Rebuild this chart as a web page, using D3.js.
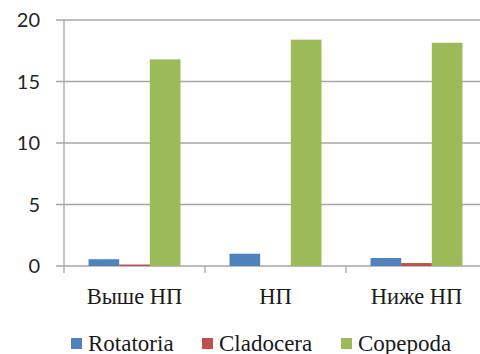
<!DOCTYPE html>
<html>
<head>
<meta charset="utf-8">
<script src="https://cdn.jsdelivr.net/npm/d3@7"></script>
<style>
  html, body { margin: 0; padding: 0; background: #fff; }
  svg { display: block; }
  .serif { font-family: "Liberation Serif", "Times New Roman", Times, serif; }
</style>
</head>
<body>
<svg id="chart" width="480" height="354"></svg>
<script>
// Sampling sites and zooplankton groups
const categories = ["Выше НП", "НП", "Ниже НП"];
const seriesNames = ["Rotatoria", "Cladocera", "Copepoda"];
const rotatoria = [0.55, 1.0, 0.65];
const cladocera = [0.12, 0.0, 0.24];
const copepoda = [16.8, 18.4, 18.15];
const yTicks = [0, 5, 10, 15, 20];
const colors = ["#4F81BD", "#C0504D", "#9BBB59"];

const seriesValues = [rotatoria, cladocera, copepoda];

const svg = d3.select("#chart");
const plot = { left: 64, right: 487, top: 20, bottom: 266 };

const x0 = d3.scaleBand().domain(categories).range([plot.left, plot.right]).paddingInner(0).paddingOuter(0);
const x1 = d3.scaleBand().domain(seriesNames).range([0, x0.bandwidth()]).paddingOuter(0.8).paddingInner(0);
const y = d3.scaleLinear().domain([0, 20]).range([plot.bottom, plot.top]);

// horizontal gridlines
svg.append("g")
  .selectAll("line")
  .data(yTicks)
  .join("line")
  .attr("x1", plot.left - 8)
  .attr("x2", 480)
  .attr("y1", d => y(d))
  .attr("y2", d => y(d))
  .attr("stroke", "#A6A6A6")
  .attr("stroke-width", 1.3);

// y tick labels
svg.append("g")
  .selectAll("text")
  .data(yTicks)
  .join("text")
  .attr("x", 40)
  .attr("y", d => y(d))
  .attr("dy", "0.36em")
  .attr("text-anchor", "end")
  .attr("font-family", "Lato, 'Open Sans', sans-serif")
  .attr("font-size", 20)
  .attr("fill", "#262626")
  .text(d => d);

// bars
const groups = svg.append("g")
  .selectAll("g")
  .data(categories)
  .join("g")
  .attr("transform", d => `translate(${x0(d)},0)`);

groups.selectAll("rect")
  .data((c, i) => seriesNames.map((s, k) => ({ s, k, v: seriesValues[k][i] })))
  .join("rect")
  .attr("x", d => x1(d.s))
  .attr("width", x1.bandwidth())
  .attr("y", d => y(d.v))
  .attr("height", d => y(0) - y(d.v))
  .attr("fill", d => colors[d.k]);

// vertical axis line
svg.append("line")
  .attr("x1", plot.left).attr("x2", plot.left)
  .attr("y1", plot.top).attr("y2", plot.bottom + 7)
  .attr("stroke", "#A6A6A6").attr("stroke-width", 1.3);

// category separator ticks
svg.append("g")
  .selectAll("line")
  .data(categories.slice(1))
  .join("line")
  .attr("x1", d => x0(d)).attr("x2", d => x0(d))
  .attr("y1", plot.bottom).attr("y2", plot.bottom + 7)
  .attr("stroke", "#A6A6A6").attr("stroke-width", 1.3);

// category labels
svg.append("g")
  .selectAll("text")
  .data(categories)
  .join("text")
  .attr("class", "serif")
  .attr("x", d => x0(d) + x0.bandwidth() / 2)
  .attr("y", 304)
  .attr("text-anchor", "middle")
  .attr("font-size", 22.5)
  .attr("fill", "#1a1a1a")
  .text(d => d);

// legend
const legendX = [71, 202, 341];
const legend = svg.append("g")
  .selectAll("g")
  .data(seriesNames)
  .join("g")
  .attr("transform", (d, i) => `translate(${legendX[i]},338)`);

legend.append("rect")
  .attr("width", 11).attr("height", 11)
  .attr("fill", (d, i) => colors[i]);

legend.append("text")
  .attr("class", "serif")
  .attr("x", 17)
  .attr("y", 12.5)
  .attr("font-size", 23)
  .attr("fill", "#1a1a1a")
  .text(d => d);
</script>
</body>
</html>
